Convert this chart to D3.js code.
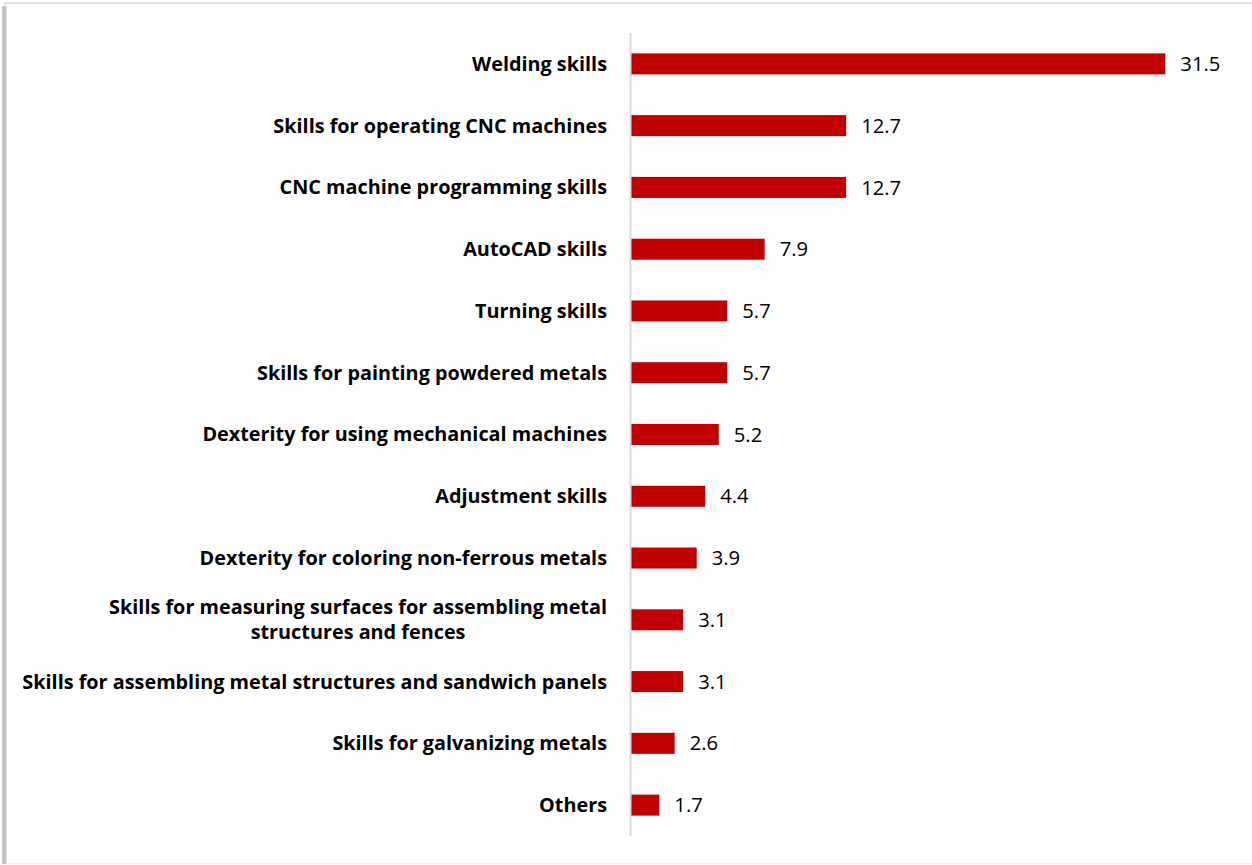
<!DOCTYPE html>
<html><head><meta charset="utf-8">
<script src="https://cdn.jsdelivr.net/npm/d3@7"></script>
<style>html,body{margin:0;padding:0;background:#fff;}svg{display:block;}</style>
</head><body>
<svg id="chart" width="1252" height="865"></svg>
<script>
const categories = [
  "Welding skills",
  "Skills for operating CNC machines",
  "CNC machine programming skills",
  "AutoCAD skills",
  "Turning skills",
  "Skills for painting powdered metals",
  "Dexterity for using mechanical machines",
  "Adjustment skills",
  "Dexterity for coloring non-ferrous metals",
  "Skills for measuring surfaces for assembling metal|structures and fences",
  "Skills for assembling metal structures and sandwich panels",
  "Skills for galvanizing metals",
  "Others"
];
const values = [31.5, 12.7, 12.7, 7.9, 5.7, 5.7, 5.2, 4.4, 3.9, 3.1, 3.1, 2.6, 1.7];

(function(){
const svg = d3.select("#chart");
const W = 1252, H = 865;

const defs = svg.append("defs");
const lg = defs.append("linearGradient").attr("id","shL").attr("x1","0").attr("x2","1");
lg.append("stop").attr("offset","0").attr("stop-color","#ffffff");
lg.append("stop").attr("offset","0.4").attr("stop-color","#b8b8b8");
lg.append("stop").attr("offset","1").attr("stop-color","#d8d8d8");
svg.append("rect").attr("x",1).attr("y",6).attr("width",6).attr("height",H-7).attr("fill","url(#shL)");
svg.append("rect").attr("x",4).attr("y",2).attr("width",W-4).attr("height",3).attr("fill","#e2e2e2");
svg.append("rect").attr("x",7).attr("y",4).attr("width",W-7).attr("height",H-5).attr("fill","#fff");
svg.append("line").attr("x1",7).attr("x2",W).attr("y1",H-1.5).attr("y2",H-1.5)
  .attr("stroke","#f0f0f0").attr("stroke-width",1);

const x0 = 630.5, yTop = 33, yBot = 836;
const x = d3.scaleLinear().domain([0, 35]).range([x0, x0 + 35 * 16.98]);
const y = d3.scaleBand().domain(categories).range([yTop, yBot]).paddingInner(0.66).paddingOuter(0.33);

const g = svg.append("g");
g.selectAll("rect.bar").data(values).join("rect")
  .attr("class","bar")
  .attr("x", x(0))
  .attr("y", (d,i) => y(categories[i]))
  .attr("width", d => x(d) - x(0))
  .attr("height", y.bandwidth())
  .attr("fill", "#c00000");

const yAxis = d3.axisLeft(y).tickSize(0).tickFormat("");
const ax = g.append("g").attr("transform", `translate(${x0},0)`).call(yAxis);
ax.select(".domain").attr("stroke","#d9d9d9").attr("stroke-width",2).attr("d", `M0,${yTop}V${yBot}`);

const labelFont = "'Open Sans', sans-serif";
// fit font size: longest label spans 585px in the original
const probe = g.append("text").attr("font-family", labelFont).attr("font-weight","bold")
  .attr("font-size","18px").text(categories[10]);
const fs = 18 * 585 / probe.node().getComputedTextLength();
probe.remove();

categories.forEach((c, i) => {
  const lines = c.split("|");
  const cy = y(c) + y.bandwidth()/2;
  const lh = 25;
  const t = g.append("text")
    .attr("font-family", labelFont).attr("font-weight","bold").attr("font-size", fs + "px")
    .attr("fill","#000");
  if (lines.length === 1) {
    t.attr("x", 607).attr("y", cy).attr("dy","0.35em").attr("text-anchor","end").text(c);
  } else {
    const tmp = t.append("tspan").text(lines[0]);
    const w0 = t.node().getComputedTextLength();
    tmp.remove();
    const cx = 607 - w0/2;
    lines.forEach((ln, k) => {
      t.append("tspan").attr("x", cx).attr("text-anchor","middle")
        .attr("y", cy + (k - (lines.length-1)/2) * lh).attr("dy","0.35em").text(ln);
    });
  }
});

g.selectAll("text.val").data(values).join("text")
  .attr("class","val")
  .attr("x", d => x(d) + 15)
  .attr("y", (d,i) => y(categories[i]) + y.bandwidth()/2)
  .attr("dy","0.35em")
  .attr("font-family", labelFont).attr("font-size", (fs*1.02) + "px").attr("fill","#000")
  .text(d => d.toFixed(1));
})();
</script>
</body></html>
